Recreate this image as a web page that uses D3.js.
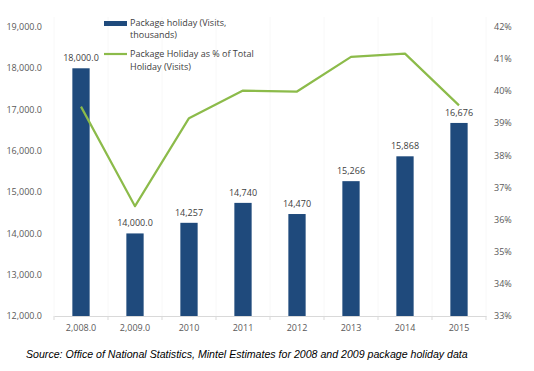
<!DOCTYPE html>
<html>
<head>
<meta charset="utf-8">
<script src="https://cdn.jsdelivr.net/npm/d3@7"></script>
<style>
  body { margin: 0; background: #fff; }
  svg { font-family: "Open Sans", "Liberation Sans", sans-serif; }
</style>
</head>
<body>
<svg width="534" height="371"></svg>
<script>
const width = 534, height = 371;

// chart data
const years = ["2,008.0", "2,009.0", "2010", "2011", "2012", "2013", "2014", "2015"];
const visits = [18000, 14000, 14257, 14740, 14470, 15266, 15868, 16676];
const visitLabels = ["18,000.0", "14,000.0", "14,257", "14,740", "14,470", "15,266", "15,868", "16,676"];
const sharePct = [39.52, 36.42, 39.16, 40.02, 39.99, 41.07, 41.17, 39.56];
const leftTicks = [12000, 13000, 14000, 15000, 16000, 17000, 18000, 19000];
const rightTicks = [33, 34, 35, 36, 37, 38, 39, 40, 41, 42];

const plot = { left: 54, right: 486, top: 27, bottom: 316 };

const svg = d3.select("svg");

const x = d3.scaleBand()
  .domain(years)
  .range([plot.left, plot.right])
  .paddingInner(0.68)
  .paddingOuter(0.34);

const yL = d3.scaleLinear().domain([12000, 19000]).range([plot.bottom, plot.top]);
const yR = d3.scaleLinear().domain([33, 42]).range([plot.bottom, plot.top]);

// faint vertical separators
const step = (plot.right - plot.left) / years.length;
svg.append("g")
  .selectAll("line")
  .data(d3.range(years.length + 1))
  .join("line")
  .attr("x1", i => plot.left + i * step)
  .attr("x2", i => plot.left + i * step)
  .attr("y1", plot.top - 10)
  .attr("y2", plot.bottom)
  .attr("stroke", "#f8f8f8");

// left axis labels
svg.append("g")
  .selectAll("text")
  .data(leftTicks)
  .join("text")
  .attr("x", 42)
  .attr("y", d => yL(d))
  .attr("dy", "0.35em")
  .attr("text-anchor", "end")
  .attr("font-size", 9)
  .attr("fill", "#595959")
  .text(d => d3.format(",.1f")(d));

// right axis labels
svg.append("g")
  .selectAll("text")
  .data(rightTicks)
  .join("text")
  .attr("x", 494)
  .attr("y", d => yR(d))
  .attr("dy", "0.35em")
  .attr("font-size", 9)
  .attr("fill", "#595959")
  .text(d => d + "%");

// bars
svg.append("g")
  .selectAll("rect")
  .data(visits)
  .join("rect")
  .attr("x", (d, i) => x(years[i]))
  .attr("width", x.bandwidth())
  .attr("y", d => yL(d))
  .attr("height", d => plot.bottom - yL(d))
  .attr("fill", "#1f4a7c");

// bar labels
svg.append("g")
  .selectAll("text")
  .data(visits)
  .join("text")
  .attr("x", (d, i) => x(years[i]) + x.bandwidth() / 2)
  .attr("y", d => yL(d) - 7)
  .attr("text-anchor", "middle")
  .attr("font-size", 9)
  .attr("fill", "#404040")
  .text((d, i) => visitLabels[i]);

// x axis
const xAxis = svg.append("g")
  .attr("transform", `translate(0,${plot.bottom})`)
  .call(d3.axisBottom(x).tickSize(0).tickPadding(9));
xAxis.select(".domain").attr("stroke", "#d9d9d9");
xAxis.selectAll("text").attr("font-size", 9).attr("fill", "#595959")
  .attr("font-family", "Open Sans, Liberation Sans, sans-serif");
xAxis.selectAll(".sep")
  .data(d3.range(years.length + 1))
  .join("line")
  .attr("class", "sep")
  .attr("x1", i => plot.left + i * step)
  .attr("x2", i => plot.left + i * step)
  .attr("y1", 0)
  .attr("y2", 4)
  .attr("stroke", "#d9d9d9");

// share line
const line = d3.line()
  .x((d, i) => x(years[i]) + x.bandwidth() / 2)
  .y(d => yR(d));
svg.append("path")
  .datum(sharePct)
  .attr("d", line)
  .attr("fill", "none")
  .attr("stroke", "#8cbb4a")
  .attr("stroke-width", 2.2)
  .attr("stroke-linejoin", "round");

// legend
const legend = svg.append("g").attr("font-size", 9).attr("fill", "#404040");
legend.append("rect").attr("x", 104).attr("y", 21).attr("width", 23).attr("height", 5).attr("fill", "#1f4a7c");
legend.append("text").attr("x", 130).attr("y", 26).text("Package holiday (Visits,");
legend.append("text").attr("x", 130).attr("y", 38).text("thousands)");
legend.append("line").attr("x1", 104).attr("x2", 127).attr("y1", 54).attr("y2", 54)
  .attr("stroke", "#8cbb4a").attr("stroke-width", 2.2);
legend.append("text").attr("x", 130).attr("y", 57).text("Package Holiday as % of Total");
legend.append("text").attr("x", 130).attr("y", 70).text("Holiday (Visits)");

// source note
svg.append("text")
  .attr("x", 26)
  .attr("y", 358)
  .attr("font-family", "Liberation Sans, Arial, sans-serif")
  .attr("font-style", "italic")
  .attr("font-size", 10.6)
  .attr("fill", "#000")
  .text("Source: Office of National Statistics, Mintel Estimates for 2008 and 2009 package holiday data");
</script>
</body>
</html>
